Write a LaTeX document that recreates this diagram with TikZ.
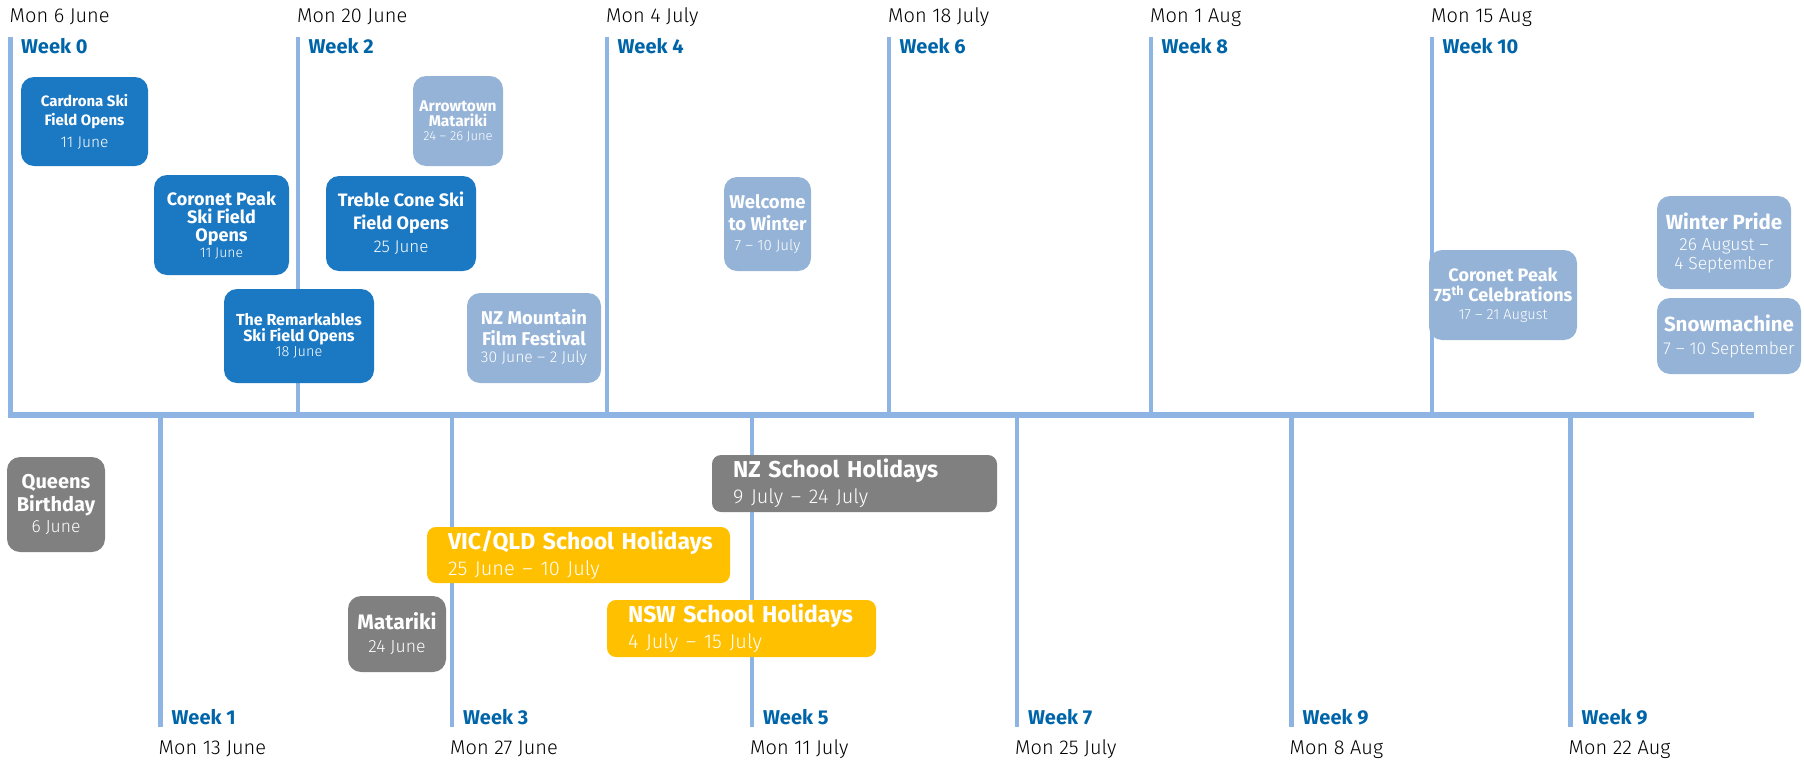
\documentclass[tikz,border=0pt]{standalone}
\usepackage{fontspec}
\setmainfont{Fira Sans}
\newfontfamily\lightfont{Fira Sans Light}
\usepackage{tikz}

\definecolor{gridblue}{RGB}{141,180,227}
\definecolor{weekblue}{RGB}{0,101,168}
\definecolor{skiblue}{RGB}{27,120,194}
\definecolor{eventblue}{RGB}{149,179,215}
\definecolor{holgrey}{RGB}{128,128,128}
\definecolor{holyellow}{RGB}{255,192,0}

\newcommand{\evfont}[2]{\fontsize{#1}{#2}\selectfont\bfseries}
\newcommand{\evdate}[2]{{\lightfont\mdseries\fontsize{#1}{#1}\selectfont #2}}

\tikzset{
  weekline/.style={gridblue, line width=4.5pt},
  weeklbl/.style={anchor=base west, inner sep=0pt, text=weekblue, font=\fontsize{20}{24}\selectfont\bfseries},
  daylbl/.style={anchor=base west, inner sep=0pt, font=\lightfont\fontsize{20}{24}\selectfont},
  evbox/.style={rounded corners=13pt, inner sep=0pt, text=white, align=center},
  ski/.style={evbox, fill=skiblue},
  event/.style={evbox, fill=eventblue},
  pubhol/.style={evbox, fill=holgrey},
  holbar/.style={rounded corners=9pt, inner xsep=21pt, inner ysep=0pt, text=white, align=left, font=\evfont{23}{26}}
}

\begin{document}
\begin{tikzpicture}[x=1pt,y=-1pt]
      \useasboundingbox (0,0) rectangle (1804,761);

      \draw[weekline, line width=5.5pt] (8,415) -- (1754,415);
      \foreach \x/\w/\d [count=\i] in {10.5/0/Mon 6 June, 298/2/Mon 20 June, 607/4/Mon 4 July, 889/6/Mon 18 July, 1151/8/Mon 1 Aug, 1432/10/Mon 15 Aug} {
        \draw[weekline] (\x,37) -- (\x,415);
        \node[weeklbl] (wtop\i) at (\x+10.5,53) {Week \w};
        \node[daylbl] (dtop\i) at (\x-1,22) {\d};
      }
      \foreach \x/\w/\d [count=\i] in {160.5/1/Mon 13 June, 452/3/Mon 27 June, 752/5/Mon 11 July, 1017/7/Mon 25 July, 1291.5/9/Mon 8 Aug, 1570.5/9/Mon 22 Aug} {
        \draw[weekline] (\x,415) -- (\x,727);
        \node[weeklbl] (wbot\i) at (\x+11,724) {Week \w};
        \node[daylbl] (dbot\i) at (\x-2,754) {\d};
      }

      \node[ski, minimum width=127pt, minimum height=89pt, font=\evfont{15}{19}] (cardrona) at (84.5,121.5) {Cardrona Ski\\Field Opens\\[3pt]\evdate{15.5}{11 June}};
      \node[ski, minimum width=135pt, minimum height=100pt, font=\evfont{18}{18}] (coronetski) at (221.5,225) {Coronet Peak\\Ski Field\\Opens\\[-2pt]\evdate{14}{11 June}};
      \node[ski, minimum width=150pt, minimum height=95pt, font=\evfont{18}{23}] (treble) at (401,223.5) {Treble Cone Ski\\Field Opens\\\evdate{17}{25 June}};
      \node[ski, minimum width=150pt, minimum height=94pt, font=\evfont{16}{16}] (remarkables) at (299,336) {The Remarkables\\Ski Field Opens\\[-1pt]\evdate{14.5}{18 June}};

      \node[event, minimum width=90pt, minimum height=90pt, font=\evfont{15.5}{15}] (arrowtown) at (458,121) {Arrowtown\\Matariki\\[-1pt]\evdate{13}{24 – 26 June}};
      \node[event, minimum width=134pt, minimum height=90pt, font=\evfont{18.5}{21}] (filmfest) at (534,338) {NZ Mountain\\Film Festival\\[-4pt]\evdate{15.7}{30 June – 2 July}};
      \node[event, minimum width=87pt, minimum height=94pt, font=\evfont{18.5}{22}] (welcome) at (767.5,224) {Welcome\\to Winter\\[-2pt]\evdate{15}{7 – 10 July}};
      \node[event, minimum width=148pt, minimum height=90pt, font=\evfont{18}{20}] (coronet75) at (1503,295) {Coronet Peak\\75\textsuperscript{th} Celebrations\\[-2pt]\evdate{14.6}{17 – 21 August}};
      \node[event, minimum width=134pt, minimum height=93pt, font=\evfont{20.5}{22}] (pride) at (1724,242.5) {Winter Pride\\[-1pt]\evdate{17.5}{26 August –}\\[-3pt]\evdate{17.5}{4 September}};
      \node[event, minimum width=144pt, minimum height=76pt, font=\evfont{20.5}{23}] (snowmachine) at (1729,336) {Snowmachine\\\evdate{17.2}{7 – 10 September}};

      \node[pubhol, minimum width=98pt, minimum height=95pt, font=\evfont{20}{23}] (queens) at (56,504.5) {Queens\\Birthday\\[-2pt]\evdate{17.5}{6 June}};
      \node[pubhol, minimum width=98pt, minimum height=76pt, font=\evfont{21}{23}] (matariki) at (397,634) {Matariki\\\evdate{17.6}{24 June}};

      \node[holbar, fill=holgrey, text width=243pt, minimum height=57pt] (nzhols) at (854.5,483.5) {NZ School Holidays\\\evdate{20}{9 July – 24 July}};
      \node[holbar, fill=holyellow, text width=261pt, minimum height=56pt] (vichols) at (578.5,555) {\mbox{VIC/QLD School Holidays}\\\evdate{20}{25 June – 10 July}};
      \node[holbar, fill=holyellow, text width=227pt, minimum height=57pt] (nswhols) at (741.5,628.5) {NSW School Holidays\\\evdate{20}{4 July – 15 July}};

    \end{tikzpicture}
\end{document}
